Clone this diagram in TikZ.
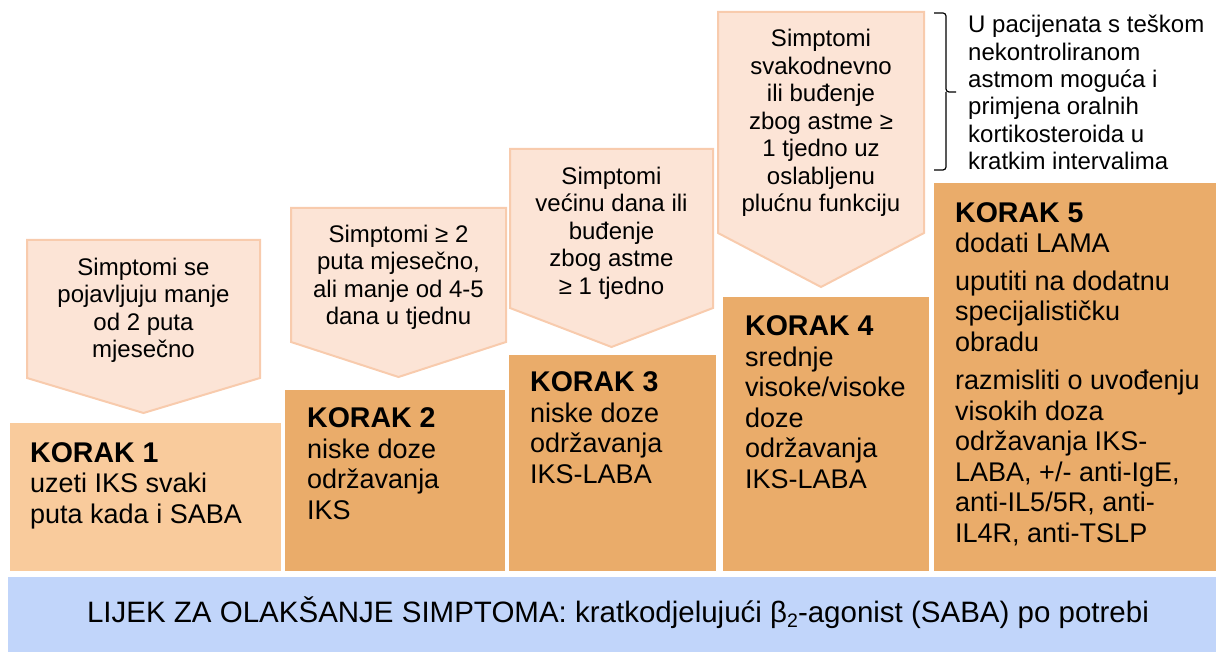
\documentclass[tikz,border=0pt]{standalone}
\usepackage{fontspec}
\setmainfont{Liberation Sans}
\definecolor{arrowfill}{HTML}{FCE4D6}
\definecolor{arrowline}{HTML}{F8CBAD}
\definecolor{stepone}{HTML}{F9CB9C}
\definecolor{stepdark}{HTML}{EAAC6A}
\definecolor{barblue}{HTML}{C1D5FA}
\newcommand{\korak}[1]{{\bfseries\fontsize{28.5}{30.5}\selectfont #1}}
\begin{document}
\begin{tikzpicture}[x=1pt,y=-1pt,
  arrowshape/.style={fill=arrowfill, draw=arrowline, line width=2pt, line join=miter},
  stepbox/.style={fill=stepdark, draw=none},
  steptext/.style={anchor=north west, inner sep=0pt, align=left, font=\fontsize{27}{30.5}\selectfont},
  arrowtext/.style={anchor=north, inner sep=0pt, align=center, font=\fontsize{24}{27.5}\selectfont},
  notetext/.style={anchor=north west, inner sep=0pt, align=left, font=\fontsize{24}{27.4}\selectfont},
  bracestyle/.style={draw=black, line width=1.2pt, rounded corners=3pt}
]
\useasboundingbox (0,0) rectangle (1216,652);

% downward arrows
\draw[arrowshape] (27,240) -- (260,240) -- (260,378) -- (143.5,413) -- (27,378) -- cycle;
\draw[arrowshape] (291,208) -- (506,208) -- (506,342) -- (398.5,377) -- (291,342) -- cycle;
\draw[arrowshape] (510,149) -- (713,149) -- (713,308) -- (611.5,347) -- (510,308) -- cycle;
\draw[arrowshape] (718,12) -- (924,12) -- (924,233) -- (821,287) -- (718,233) -- cycle;

% steps
\fill[stepone] (10,423) rectangle (281,571);
\fill[stepdark] (285,390) rectangle (505,571);
\fill[stepdark] (509,355) rectangle (716,571);
\fill[stepdark] (723,297) rectangle (929,571);
\fill[stepdark] (934,183) rectangle (1216,571);

% bottom bar
\fill[barblue] (8,577) rectangle (1216,652);

% step texts
\node[steptext] (t1) at (30,442) {\korak{KORAK 1}\\uzeti IKS svaki\\puta kada i SABA};
\node[steptext] (t2) at (307,407.5) {\korak{KORAK 2}\\niske doze\\održavanja\\IKS};
\node[steptext] (t3) at (530,371.5) {\korak{KORAK 3}\\niske doze\\održavanja\\IKS-LABA};
\node[steptext] (t4) at (745,315.5) {\korak{KORAK 4}\\srednje\\visoke/visoke\\doze\\održavanja\\IKS-LABA};
\node[steptext] (t5) at (955,202) {\korak{KORAK 5}\\dodati LAMA\\[7pt]uputiti na dodatnu\\specijalističku\\obradu\\[8pt]razmisliti o uvođenju\\visokih doza\\održavanja IKS-\\LABA, +/- anti-IgE,\\anti-IL5/5R, anti-\\IL4R, anti-TSLP};

% arrow texts
\node[arrowtext] (a1) at (143.5,257.5) {Simptomi se\\pojavljuju manje\\od 2 puta\\mjesečno};
\node[arrowtext] (a2) at (398.5,224.5) {Simptomi ≥ 2\\puta mjesečno,\\ali manje od 4-5\\dana u tjednu};
\node[arrowtext] (a3) at (611.5,166.5) {Simptomi\\većinu dana ili\\buđenje\\zbog astme\\≥ 1 tjedno};
\node[arrowtext] (a4) at (821,29) {Simptomi\\svakodnevno\\ili buđenje\\zbog astme ≥\\1 tjedno uz\\oslabljenu\\plućnu funkciju};

% brace and note
\draw[bracestyle] (934,13) -- (946,13) -- (946,92) -- (956,92);
\draw[bracestyle] (946,92) -- (946,170) -- (934,170);
\node[notetext] (note) at (968,15) {U pacijenata s teškom\\nekontroliranom\\astmom moguća i\\primjena oralnih\\kortikosteroida u\\kratkim intervalima};

% bottom text
\node[anchor=base, inner sep=0pt, font=\fontsize{29.5}{31}\selectfont] (bar) at (618,622) {LIJEK ZA OLAKŠANJE SIMPTOMA: kratkodjelujući β\raisebox{-0.2em}{\fontsize{19.5}{19.5}\selectfont 2}-agonist (SABA) po potrebi};
\end{tikzpicture}
\end{document}
